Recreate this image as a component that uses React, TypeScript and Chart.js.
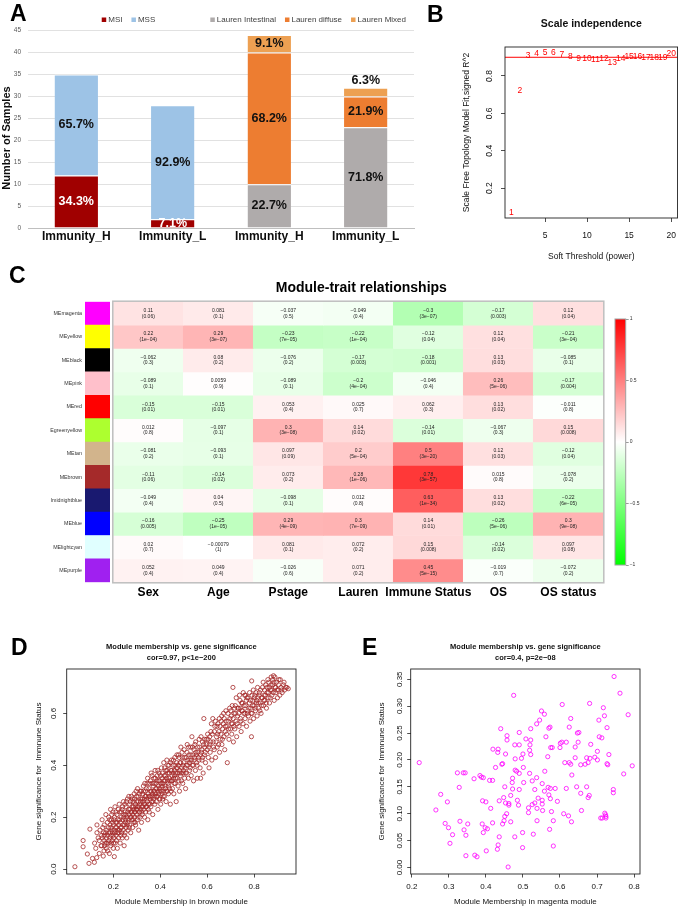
import React, { useEffect, useRef } from "react";
import { Chart, registerables } from "chart.js";
Chart.register(...registerables);

const FONT = "'Liberation Sans', Arial, Helvetica, sans-serif";
Chart.defaults.font.family = FONT;
Chart.defaults.color = "#000";

// ---------------- Panel A data ----------------
const groupLabels = ["Immunity_H", "Immunity_L", "Immunity_H", "Immunity_L"];
const msiCounts = [12, 2, null, null];
const mssCounts = [23, 26, null, null];
const intestinalCounts = [null, null, 10, 23];
const diffuseCounts = [null, null, 30, 7];
const mixedCounts = [null, null, 4, 2];
const msiPct = ["34.3%", "7.1%", null, null];
const mssPct = ["65.7%", "92.9%", null, null];
const intestinalPct = [null, null, "22.7%", "71.8%"];
const diffusePct = [null, null, "68.2%", "21.9%"];
const mixedPct = [null, null, "9.1%", "6.3%"];

// ---------------- Panel B data ----------------
const softPowers = [1, 2, 3, 4, 5, 6, 7, 8, 9, 10, 11, 12, 13, 14, 15, 16, 17, 18, 19, 20];
const signedR2 = [0.07, 0.72, 0.909, 0.92, 0.925, 0.927, 0.916, 0.903, 0.895, 0.89, 0.886, 0.891, 0.871, 0.89, 0.903, 0.903, 0.9, 0.9, 0.9, 0.92];
const r2Cutoff = 0.9;
const powerTicks = [5, 10, 15, 20];
const r2Ticks = [0.2, 0.4, 0.6, 0.8];

// ---------------- Panel C data ----------------
const traitNames = ["Sex", "Age", "Pstage", "Lauren", "Immune Status", "OS", "OS status"];
const moduleNames = ["MEmagenta", "MEyellow", "MEblack", "MEpink", "MEred", "Egreenyellow", "MEtan", "MEbrown", "lmidnightblue", "MEblue", "MElightcyan", "MEpurple"];
const moduleColors = ["#FF00FF", "#FFFF00", "#000000", "#FFC0CB", "#FF0000", "#ADFF2F", "#D2B48C", "#A52A2A", "#191970", "#0000FF", "#E0FFFF", "#A020F0"];
const moduleTraitCor = [
  [0.11, 0.081, -0.037, -0.049, -0.3, -0.17, 0.12],
  [0.22, 0.29, -0.23, -0.22, -0.12, 0.12, -0.21],
  [-0.062, 0.08, -0.076, -0.17, -0.18, 0.13, -0.085],
  [-0.089, 0.0059, -0.089, -0.2, -0.046, 0.26, -0.17],
  [-0.15, -0.15, 0.053, 0.025, 0.062, 0.13, -0.011],
  [0.012, -0.097, 0.3, 0.14, -0.14, -0.067, 0.15],
  [-0.081, -0.093, 0.097, 0.2, 0.5, 0.12, -0.12],
  [-0.11, -0.14, 0.073, 0.28, 0.78, 0.015, -0.078],
  [-0.049, 0.04, -0.098, 0.012, 0.63, 0.13, -0.22],
  [-0.16, -0.25, 0.29, 0.3, 0.14, -0.26, 0.3],
  [0.02, -0.00079, 0.081, 0.072, 0.15, -0.14, 0.097],
  [0.052, 0.049, -0.026, 0.071, 0.45, -0.019, -0.072],
];
const moduleTraitP = [
  ["0.06", "0.1", "0.5", "0.4", "3e\u221207", "0.003", "0.04"],
  ["1e\u221204", "3e\u221207", "7e\u221205", "1e\u221204", "0.04", "0.04", "3e\u221204"],
  ["0.3", "0.2", "0.2", "0.003", "0.001", "0.03", "0.1"],
  ["0.1", "0.9", "0.1", "4e\u221204", "0.4", "5e\u221206", "0.004"],
  ["0.01", "0.01", "0.4", "0.7", "0.3", "0.02", "0.8"],
  ["0.8", "0.1", "3e\u221208", "0.02", "0.01", "0.3", "0.008"],
  ["0.2", "0.1", "0.09", "5e\u221204", "3e\u221220", "0.03", "0.04"],
  ["0.06", "0.02", "0.2", "1e\u221206", "3e\u221257", "0.8", "0.2"],
  ["0.4", "0.5", "0.1", "0.8", "1e\u221234", "0.02", "6e\u221205"],
  ["0.005", "1e\u221205", "4e\u221209", "7e\u221209", "0.01", "5e\u221206", "9e\u221208"],
  ["0.7", "1", "0.1", "0.2", "0.008", "0.02", "0.08"],
  ["0.4", "0.4", "0.6", "0.2", "5e\u221215", "0.7", "0.2"],
];
const colorbarRange = [-1, 1];

// ---------------- Panel D data (brown module) ----------------
const brownMMvsGS = [
  [0.036, 0.009], [0.071, 0.086], [0.071, 0.11], [0.089, 0.058], [0.096, 0.022], [0.1, 0.154], [0.111, 0.041], [0.119, 0.026], [0.129, 0.044], [0.204, 0.048],
  [0.12, 0.1], [0.13, 0.14], [0.125, 0.08], [0.135, 0.12], [0.14, 0.06], [0.13, 0.17], [0.14, 0.11],
  [0.15, 0.09], [0.15, 0.13], [0.155, 0.16], [0.16, 0.07], [0.16, 0.11], [0.152, 0.19], [0.158, 0.14], [0.165, 0.1], [0.162, 0.13], [0.168, 0.21],
  [0.17, 0.08], [0.17, 0.12], [0.172, 0.15], [0.175, 0.18], [0.178, 0.1], [0.18, 0.14], [0.18, 0.2], [0.183, 0.06], [0.185, 0.12], [0.186, 0.17], [0.188, 0.23], [0.189, 0.09],
  [0.19, 0.13], [0.19, 0.16], [0.192, 0.19], [0.195, 0.11], [0.196, 0.14], [0.198, 0.22], [0.2, 0.08], [0.2, 0.17], [0.202, 0.12], [0.204, 0.15], [0.205, 0.2], [0.207, 0.24], [0.208, 0.1], [0.21, 0.18],
  [0.212, 0.13], [0.214, 0.16], [0.215, 0.21], [0.217, 0.08], [0.218, 0.14], [0.22, 0.19], [0.222, 0.12], [0.223, 0.17], [0.225, 0.25], [0.226, 0.15], [0.228, 0.22], [0.229, 0.1],
  [0.23, 0.18], [0.232, 0.13], [0.233, 0.2], [0.235, 0.16], [0.237, 0.23], [0.238, 0.12], [0.24, 0.19], [0.242, 0.15], [0.243, 0.26], [0.245, 0.21], [0.246, 0.09], [0.248, 0.17],
  [0.25, 0.14], [0.25, 0.22], [0.252, 0.19], [0.254, 0.24], [0.255, 0.16], [0.257, 0.12], [0.258, 0.2], [0.26, 0.27], [0.262, 0.18], [0.263, 0.15], [0.265, 0.23], [0.267, 0.21],
  [0.27, 0.17], [0.27, 0.25], [0.272, 0.2], [0.274, 0.14], [0.275, 0.22], [0.277, 0.28], [0.278, 0.19], [0.28, 0.24], [0.282, 0.16], [0.283, 0.21], [0.285, 0.26], [0.287, 0.23], [0.288, 0.18],
  [0.29, 0.2], [0.29, 0.27], [0.292, 0.22], [0.294, 0.25], [0.295, 0.17], [0.297, 0.3], [0.298, 0.23], [0.3, 0.21], [0.3, 0.26], [0.302, 0.19], [0.304, 0.24], [0.306, 0.28], [0.308, 0.15], [0.31, 0.22],
  [0.312, 0.25], [0.314, 0.2], [0.315, 0.3], [0.317, 0.23], [0.318, 0.27], [0.32, 0.18], [0.322, 0.24], [0.323, 0.21], [0.325, 0.29], [0.327, 0.26], [0.328, 0.32], [0.33, 0.23],
  [0.332, 0.27], [0.333, 0.2], [0.335, 0.25], [0.337, 0.3], [0.338, 0.22], [0.34, 0.28], [0.342, 0.24], [0.344, 0.33], [0.345, 0.26], [0.347, 0.19], [0.348, 0.29], [0.35, 0.25],
  [0.352, 0.31], [0.353, 0.22], [0.355, 0.28], [0.357, 0.27], [0.358, 0.34], [0.36, 0.24], [0.362, 0.3], [0.363, 0.26], [0.365, 0.36], [0.367, 0.29], [0.368, 0.21], [0.37, 0.32],
  [0.372, 0.27], [0.373, 0.35], [0.375, 0.3], [0.377, 0.25], [0.378, 0.38], [0.38, 0.29], [0.382, 0.33], [0.383, 0.26], [0.385, 0.31], [0.387, 0.36], [0.388, 0.28], [0.39, 0.23],
  [0.392, 0.32], [0.393, 0.29], [0.395, 0.37], [0.397, 0.27], [0.398, 0.34], [0.4, 0.3], [0.402, 0.25], [0.404, 0.32], [0.405, 0.39], [0.407, 0.29], [0.408, 0.35], [0.41, 0.27],
  [0.412, 0.33], [0.414, 0.3], [0.415, 0.41], [0.417, 0.36], [0.418, 0.28], [0.42, 0.34], [0.422, 0.31], [0.424, 0.38], [0.425, 0.26], [0.427, 0.35], [0.428, 0.42], [0.43, 0.3],
  [0.432, 0.37], [0.434, 0.33], [0.435, 0.29], [0.437, 0.4], [0.438, 0.35], [0.44, 0.31], [0.443, 0.25], [0.445, 0.38], [0.447, 0.34], [0.448, 0.42], [0.45, 0.36],
  [0.452, 0.31], [0.455, 0.4], [0.457, 0.35], [0.458, 0.29], [0.46, 0.38], [0.462, 0.43], [0.464, 0.33], [0.466, 0.37], [0.468, 0.26], [0.47, 0.41],
  [0.472, 0.35], [0.474, 0.39], [0.476, 0.32], [0.478, 0.44], [0.48, 0.37], [0.482, 0.3], [0.484, 0.41], [0.486, 0.36], [0.488, 0.47], [0.49, 0.34],
  [0.492, 0.39], [0.494, 0.43], [0.496, 0.33], [0.498, 0.37], [0.5, 0.41], [0.502, 0.46], [0.504, 0.35], [0.506, 0.39], [0.508, 0.31], [0.51, 0.43],
  [0.512, 0.37], [0.515, 0.48], [0.517, 0.4], [0.52, 0.35], [0.522, 0.44], [0.525, 0.38], [0.527, 0.42], [0.53, 0.47], [0.532, 0.36],
  [0.535, 0.51], [0.537, 0.4], [0.54, 0.44], [0.542, 0.34], [0.545, 0.42], [0.548, 0.48], [0.55, 0.38], [0.552, 0.45], [0.555, 0.41], [0.558, 0.35],
  [0.56, 0.47], [0.563, 0.43], [0.566, 0.5], [0.57, 0.39], [0.572, 0.35], [0.575, 0.45], [0.578, 0.42], [0.58, 0.49], [0.583, 0.37], [0.586, 0.58],
  [0.588, 0.44], [0.59, 0.47], [0.593, 0.41], [0.596, 0.5], [0.6, 0.46], [0.602, 0.52], [0.605, 0.43], [0.608, 0.39], [0.61, 0.48],
  [0.613, 0.45], [0.616, 0.53], [0.62, 0.42], [0.624, 0.58], [0.626, 0.49], [0.63, 0.46], [0.633, 0.55], [0.636, 0.43], [0.64, 0.51],
  [0.643, 0.47], [0.646, 0.56], [0.65, 0.53], [0.653, 0.45], [0.656, 0.5], [0.66, 0.57], [0.663, 0.48], [0.666, 0.54], [0.67, 0.6], [0.672, 0.51],
  [0.675, 0.46], [0.678, 0.55], [0.68, 0.61], [0.683, 0.52], [0.686, 0.41], [0.69, 0.57], [0.693, 0.5], [0.696, 0.62], [0.7, 0.54], [0.703, 0.59],
  [0.705, 0.52], [0.708, 0.56], [0.71, 0.7], [0.712, 0.49], [0.715, 0.6], [0.718, 0.54], [0.72, 0.63], [0.723, 0.57], [0.726, 0.51], [0.73, 0.59],
  [0.733, 0.62], [0.736, 0.55], [0.74, 0.65], [0.742, 0.58], [0.745, 0.53], [0.748, 0.61], [0.75, 0.64], [0.753, 0.56], [0.756, 0.6], [0.76, 0.67],
  [0.762, 0.58], [0.765, 0.63], [0.768, 0.55], [0.77, 0.66], [0.773, 0.61], [0.776, 0.59], [0.78, 0.64], [0.783, 0.57], [0.786, 0.62], [0.789, 0.51], [0.79, 0.725],
  [0.792, 0.6], [0.795, 0.65], [0.798, 0.58], [0.8, 0.63], [0.803, 0.67], [0.806, 0.61], [0.81, 0.64], [0.813, 0.59], [0.816, 0.66], [0.82, 0.62],
  [0.823, 0.68], [0.826, 0.64], [0.83, 0.6], [0.833, 0.66], [0.836, 0.7], [0.84, 0.63], [0.843, 0.67], [0.846, 0.65], [0.85, 0.71], [0.853, 0.62],
  [0.856, 0.68], [0.86, 0.66], [0.863, 0.72], [0.866, 0.64], [0.87, 0.69], [0.873, 0.74], [0.876, 0.67], [0.88, 0.71], [0.883, 0.745], [0.886, 0.65],
  [0.89, 0.7], [0.893, 0.68], [0.896, 0.72], [0.9, 0.66], [0.903, 0.69], [0.906, 0.73], [0.91, 0.67], [0.915, 0.7], [0.92, 0.68], [0.925, 0.71], [0.93, 0.69], [0.94, 0.7], [0.946, 0.695],
  [0.143, 0.15], [0.147, 0.09], [0.153, 0.12], [0.157, 0.05], [0.161, 0.17], [0.163, 0.09], [0.167, 0.14], [0.171, 0.1], [0.174, 0.13], [0.176, 0.07], [0.179, 0.16], [0.181, 0.11], [0.184, 0.19], [0.187, 0.14], [0.191, 0.1], [0.193, 0.21], [0.194, 0.15], [0.197, 0.18], [0.199, 0.13], [0.201, 0.1],
  [0.203, 0.19], [0.206, 0.14], [0.209, 0.16], [0.211, 0.22], [0.213, 0.11], [0.216, 0.18], [0.219, 0.15], [0.221, 0.23], [0.224, 0.14], [0.227, 0.19], [0.231, 0.16], [0.234, 0.22], [0.236, 0.14], [0.239, 0.24], [0.241, 0.17], [0.244, 0.2], [0.247, 0.13], [0.249, 0.25], [0.251, 0.18], [0.253, 0.21], [0.256, 0.26], [0.259, 0.17],
  [0.261, 0.22], [0.264, 0.19], [0.266, 0.28], [0.268, 0.16], [0.271, 0.23], [0.273, 0.26], [0.276, 0.2], [0.279, 0.22], [0.281, 0.27], [0.284, 0.19], [0.286, 0.24], [0.289, 0.29], [0.291, 0.22], [0.293, 0.18], [0.296, 0.24], [0.299, 0.28], [0.301, 0.23], [0.303, 0.31], [0.305, 0.2], [0.307, 0.26], [0.309, 0.24], [0.311, 0.29], [0.313, 0.22], [0.316, 0.26], [0.319, 0.3],
  [0.321, 0.22], [0.324, 0.27], [0.326, 0.24], [0.329, 0.3], [0.331, 0.25], [0.334, 0.33], [0.336, 0.28], [0.339, 0.24], [0.341, 0.31], [0.343, 0.27], [0.346, 0.35], [0.349, 0.23], [0.351, 0.28], [0.354, 0.33], [0.356, 0.25], [0.359, 0.3], [0.361, 0.37], [0.364, 0.28], [0.366, 0.33], [0.369, 0.26], [0.371, 0.3], [0.374, 0.33], [0.376, 0.28], [0.379, 0.35], [0.381, 0.31], [0.384, 0.28], [0.386, 0.34], [0.389, 0.38], [0.391, 0.3], [0.394, 0.34], [0.396, 0.31], [0.399, 0.27],
  [0.401, 0.36], [0.403, 0.33], [0.406, 0.3], [0.409, 0.37], [0.411, 0.32], [0.413, 0.28], [0.416, 0.34], [0.419, 0.39], [0.421, 0.32], [0.423, 0.36], [0.426, 0.3], [0.429, 0.38], [0.431, 0.34], [0.433, 0.4], [0.436, 0.32], [0.439, 0.37], [0.441, 0.34], [0.444, 0.41], [0.446, 0.3], [0.449, 0.38], [0.451, 0.34], [0.454, 0.37], [0.456, 0.42], [0.459, 0.33], [0.461, 0.36], [0.463, 0.4], [0.465, 0.35], [0.469, 0.39], [0.471, 0.44], [0.473, 0.37], [0.477, 0.4], [0.479, 0.34], [0.481, 0.43], [0.483, 0.38], [0.487, 0.41], [0.489, 0.37], [0.493, 0.45], [0.497, 0.4], [0.499, 0.38],
  [0.503, 0.43], [0.507, 0.37], [0.511, 0.4], [0.514, 0.45], [0.518, 0.42], [0.521, 0.47], [0.524, 0.41], [0.528, 0.39], [0.531, 0.44], [0.534, 0.42], [0.538, 0.47], [0.541, 0.4], [0.544, 0.46], [0.547, 0.43], [0.551, 0.49], [0.554, 0.44], [0.557, 0.4], [0.561, 0.45], [0.565, 0.42], [0.568, 0.47], [0.571, 0.44], [0.574, 0.51], [0.577, 0.46], [0.581, 0.43], [0.585, 0.48], [0.589, 0.5], [0.592, 0.45], [0.597, 0.48],
  [0.603, 0.5], [0.607, 0.47], [0.611, 0.51], [0.615, 0.49], [0.618, 0.56], [0.622, 0.52], [0.627, 0.47], [0.631, 0.53], [0.635, 0.57], [0.638, 0.49], [0.642, 0.55], [0.645, 0.52], [0.649, 0.48], [0.652, 0.58], [0.655, 0.55], [0.659, 0.52], [0.662, 0.59], [0.665, 0.5], [0.669, 0.56], [0.673, 0.58], [0.677, 0.53], [0.681, 0.57], [0.685, 0.55], [0.689, 0.6], [0.692, 0.54], [0.697, 0.58],
  [0.701, 0.61], [0.704, 0.56], [0.707, 0.63], [0.711, 0.58], [0.714, 0.55], [0.717, 0.62], [0.721, 0.6], [0.724, 0.66], [0.728, 0.56], [0.731, 0.62], [0.735, 0.6], [0.738, 0.67], [0.741, 0.62], [0.744, 0.57], [0.747, 0.64], [0.751, 0.61], [0.754, 0.68], [0.758, 0.63], [0.761, 0.6], [0.764, 0.67], [0.767, 0.65], [0.771, 0.6], [0.774, 0.66], [0.778, 0.62], [0.781, 0.68], [0.785, 0.65], [0.788, 0.6], [0.791, 0.67], [0.794, 0.63], [0.797, 0.69],
  [0.801, 0.66], [0.805, 0.62], [0.808, 0.68], [0.812, 0.65], [0.815, 0.7], [0.818, 0.64], [0.822, 0.67], [0.825, 0.61], [0.828, 0.69], [0.832, 0.63], [0.835, 0.66], [0.839, 0.72], [0.842, 0.65], [0.845, 0.69], [0.849, 0.67], [0.852, 0.64], [0.855, 0.7], [0.859, 0.73], [0.862, 0.68], [0.865, 0.7], [0.869, 0.66], [0.872, 0.71], [0.875, 0.69], [0.879, 0.73], [0.882, 0.68], [0.885, 0.72], [0.889, 0.74], [0.892, 0.7], [0.898, 0.69], [0.905, 0.71], [0.912, 0.73], [0.918, 0.69], [0.928, 0.72], [0.935, 0.7],
];

// ---------------- Panel E data (magenta module) ----------------
const magentaMMvsGS = [
  [0.22, 0.195], [0.265, 0.107], [0.278, 0.136], [0.296, 0.122], [0.29, 0.082], [0.299, 0.074], [0.303, 0.045], [0.31, 0.061], [0.323, 0.176], [0.328, 0.149],
  [0.33, 0.086], [0.339, 0.176], [0.344, 0.176], [0.341, 0.07], [0.346, 0.06], [0.351, 0.081], [0.346, 0.022], [0.368, 0.165], [0.37, 0.023], [0.376, 0.02],
  [0.384, 0.171], [0.388, 0.168], [0.393, 0.167], [0.391, 0.124], [0.39, 0.081], [0.393, 0.065], [0.4, 0.122], [0.398, 0.074], [0.404, 0.072], [0.401, 0.031],
  [0.41, 0.162], [0.413, 0.11], [0.418, 0.162], [0.418, 0.083], [0.419, 0.22], [0.426, 0.186], [0.433, 0.22], [0.432, 0.214], [0.436, 0.124], [0.436, 0.057],
  [0.433, 0.042], [0.431, 0.034], [0.44, 0.258], [0.443, 0.192], [0.445, 0.193], [0.445, 0.081], [0.448, 0.13], [0.451, 0.15], [0.453, 0.211], [0.449, 0.087],
  [0.451, 0.095], [0.456, 0.1], [0.453, 0.12], [0.457, 0.245], [0.457, 0.237], [0.462, 0.119], [0.462, 0.116], [0.46, 0.001], [0.467, 0.134], [0.467, 0.085],
  [0.471, 0.158], [0.472, 0.166], [0.472, 0.146], [0.475, 0.32], [0.478, 0.228], [0.479, 0.202], [0.479, 0.181], [0.483, 0.179], [0.485, 0.125], [0.488, 0.116],
  [0.49, 0.251], [0.49, 0.228], [0.49, 0.175], [0.49, 0.145], [0.478, 0.057], [0.496, 0.203], [0.499, 0.037], [0.5, 0.211], [0.501, 0.186], [0.502, 0.158],
  [0.499, 0.065], [0.508, 0.239], [0.515, 0.102], [0.515, 0.111], [0.518, 0.218], [0.519, 0.228], [0.518, 0.175], [0.521, 0.237], [0.521, 0.258], [0.521, 0.21],
  [0.525, 0.161], [0.525, 0.117], [0.528, 0.062], [0.532, 0.145], [0.532, 0.12], [0.537, 0.167], [0.538, 0.087], [0.537, 0.267], [0.538, 0.11], [0.541, 0.129],
  [0.545, 0.274], [0.55, 0.291], [0.552, 0.156], [0.552, 0.125], [0.552, 0.118], [0.553, 0.106], [0.558, 0.285], [0.559, 0.179], [0.558, 0.142], [0.562, 0.243],
  [0.567, 0.206], [0.568, 0.149], [0.57, 0.259], [0.573, 0.261], [0.57, 0.135], [0.572, 0.071], [0.574, 0.128], [0.575, 0.223], [0.579, 0.223], [0.574, 0.147],
  [0.577, 0.104], [0.582, 0.087], [0.582, 0.04], [0.587, 0.147], [0.593, 0.123], [0.6, 0.223], [0.601, 0.231], [0.605, 0.233], [0.606, 0.303], [0.61, 0.1],
  [0.613, 0.195], [0.617, 0.233], [0.617, 0.147], [0.623, 0.096], [0.625, 0.261], [0.625, 0.195], [0.629, 0.277], [0.629, 0.192], [0.632, 0.172], [0.631, 0.085],
  [0.641, 0.224], [0.641, 0.204], [0.645, 0.15], [0.647, 0.25], [0.649, 0.233], [0.651, 0.251], [0.656, 0.191], [0.656, 0.138], [0.658, 0.106], [0.668, 0.192],
  [0.672, 0.204], [0.672, 0.15], [0.676, 0.13], [0.679, 0.134], [0.676, 0.195], [0.68, 0.305], [0.681, 0.203], [0.683, 0.229], [0.694, 0.205], [0.701, 0.216],
  [0.701, 0.2], [0.706, 0.243], [0.705, 0.274], [0.71, 0.092], [0.713, 0.241], [0.714, 0.092], [0.717, 0.297], [0.72, 0.282], [0.721, 0.101], [0.723, 0.098],
  [0.724, 0.095], [0.724, 0.092], [0.727, 0.26], [0.727, 0.193], [0.729, 0.191], [0.732, 0.21], [0.744, 0.145], [0.744, 0.139], [0.746, 0.355], [0.762, 0.324],
  [0.772, 0.174], [0.784, 0.284], [0.795, 0.189],
];
const mmTicksD = [0.2, 0.4, 0.6, 0.8];
const gsTicksD = [0.0, 0.2, 0.4, 0.6];
const mmTicksE = [0.2, 0.3, 0.4, 0.5, 0.6, 0.7, 0.8];
const gsTicksE = [0.0, 0.05, 0.1, 0.15, 0.2, 0.25, 0.3, 0.35];

// ---------------- helpers ----------------
const corColor = (v: number) => {
  const c = Math.round(255 * (1 - Math.abs(v)));
  return v >= 0 ? `rgb(255,${c},${c})` : `rgb(${c},255,${c})`;
};
const fmtCor = (v: number) => String(v).replace("-", "\u2212");

const baseOptions = () => ({
  responsive: false,
  animation: false,
  devicePixelRatio: 1,
  events: [],
  plugins: { legend: { display: false }, tooltip: { enabled: false }, title: { display: false } },
});

const fixWidth = (w: number) => (s: any) => { s.width = w; };
const fixHeight = (h: number) => (s: any) => { s.height = h; };
const setTicks = (vals: number[]) => (s: any) => { s.ticks = vals.map((v) => ({ value: v })); };

// R-style decoration: box, rotated y tick labels, axis titles, main title
function rDecor(o: any) {
  return {
    id: "rDecor",
    afterDraw(chart: any) {
      const { ctx, chartArea: a, scales } = chart;
      ctx.save();
      ctx.strokeStyle = "#222";
      ctx.lineWidth = 0.9;
      ctx.strokeRect(a.left, a.top, a.right - a.left, a.bottom - a.top);
      ctx.fillStyle = "#111";
      ctx.textAlign = "center";
      ctx.textBaseline = "middle";
      ctx.font = `${o.tickSize}px ${FONT}`;
      scales.y.ticks.forEach((t: any) => {
        const py = scales.y.getPixelForValue(t.value);
        ctx.save();
        ctx.translate(o.yLabelX, py);
        ctx.rotate(-Math.PI / 2);
        ctx.fillText(t.value.toFixed(o.yDigits), 0, 0);
        ctx.restore();
      });
      const cx = (a.left + a.right) / 2;
      const cy = (a.top + a.bottom) / 2;
      ctx.font = `${o.axisSize}px ${FONT}`;
      ctx.save();
      ctx.translate(o.yTitleX, cy);
      ctx.rotate(-Math.PI / 2);
      ctx.fillText(o.yTitle, 0, 0);
      ctx.restore();
      ctx.fillText(o.xTitle, cx, o.xTitleY);
      ctx.font = `bold ${o.mainSize}px ${FONT}`;
      o.main.forEach((m: string, i: number) => ctx.fillText(m, cx, o.mainY[i]));
      ctx.restore();
    },
  };
}

// ---------------- Panel A ----------------
function makeA() {
  const bar = (label: string, data: any[], pct: any[], color: string, labelColor: string, group: number, extra: any = {}) => ({
    label, data, pctLabels: pct, labelColor, legendGroup: group,
    backgroundColor: color, borderColor: "#ffffff",
    borderWidth: { top: 1, left: 0, right: 0, bottom: 0 }, borderSkipped: false,
    categoryPercentage: 0.9, barPercentage: 0.5, ...extra,
  });
  const plugin = {
    id: "panelA",
    afterDatasetsDraw(chart: any) {
      const ctx = chart.ctx;
      ctx.save();
      ctx.font = `bold 12.5px ${FONT}`;
      ctx.textAlign = "center";
      ctx.textBaseline = "middle";
      chart.data.datasets.forEach((ds: any, di: number) => {
        const meta = chart.getDatasetMeta(di);
        meta.data.forEach((el: any, i: number) => {
          const txt = ds.pctLabels[i];
          if (!txt) return;
          const h = Math.abs(el.base - el.y);
          let ty = (el.y + el.base) / 2;
          if (ds.labelAbove && h < 12) ty = el.y - 7;
          ctx.fillStyle = ds.labelColor;
          ctx.fillText(txt, el.x, ty);
        });
      });
      ctx.restore();
    },
    afterDraw(chart: any) {
      const ctx = chart.ctx;
      const a = chart.chartArea;
      ctx.save();
      ctx.font = `bold 11px ${FONT}`;
      ctx.fillStyle = "#0d0d0d";
      ctx.textAlign = "center";
      ctx.textBaseline = "middle";
      ctx.translate(7, 138);
      ctx.rotate(-Math.PI / 2);
      ctx.fillText("Number of Samples", 0, 0);
      ctx.restore();
      ctx.save();
      ctx.font = `8px ${FONT}`;
      ctx.textBaseline = "middle";
      ctx.textAlign = "left";
      const xs = chart.scales.x;
      const groups = [0, 1].map((g) => chart.data.datasets.filter((d: any) => d.legendGroup === g));
      const widthOf = (items: any[]) => items.reduce((s, d) => s + 6.5 + ctx.measureText(d.label).width + 9, 0) - 9;
      const draw = (items: any[], startX: number) => {
        let x = startX;
        items.forEach((d: any) => {
          ctx.fillStyle = d.backgroundColor;
          ctx.fillRect(x, 17.5, 4.5, 4.5);
          ctx.fillStyle = "#404040";
          ctx.fillText(d.label, x + 6.5, 20);
          x += 6.5 + ctx.measureText(d.label).width + 9;
        });
      };
      const c1 = (xs.getPixelForValue(0) + xs.getPixelForValue(1)) / 2 + 4;
      draw(groups[0], c1 - widthOf(groups[0]) / 2);
      draw(groups[1], a.right - 8 - widthOf(groups[1]));
      ctx.restore();
    },
  };
  return {
    type: "bar",
    data: {
      labels: groupLabels,
      datasets: [
        bar("MSI", msiCounts, msiPct, "#A00000", "#ffffff", 0),
        bar("MSS", mssCounts, mssPct, "#9DC3E6", "#111111", 0),
        bar("Lauren Intestinal", intestinalCounts, intestinalPct, "#AFABAB", "#111111", 1),
        bar("Lauren diffuse", diffuseCounts, diffusePct, "#ED7D31", "#111111", 1),
        bar("Lauren Mixed", mixedCounts, mixedPct, "#EDA052", "#111111", 1, { labelAbove: true }),
      ],
    },
    options: {
      ...baseOptions(),
      layout: { padding: { top: 30.7, right: 6, left: 0, bottom: 0 } },
      scales: {
        x: {
          stacked: true,
          grid: { display: false, drawTicks: false },
          border: { display: true, color: "#BFBFBF", width: 1 },
          ticks: { font: { size: 12, weight: "bold" }, color: "#0d0d0d", padding: 1, autoSkip: false, maxRotation: 0 },
          afterFit: fixHeight(17),
        },
        y: {
          stacked: true, min: 0, max: 45,
          ticks: { stepSize: 5, font: { size: 6.5 }, color: "#595959", padding: 7 },
          grid: { color: "#D9D9D9", lineWidth: 0.8, drawTicks: false },
          border: { display: false },
          afterFit: fixWidth(28),
        },
      },
    },
    plugins: [plugin],
  };
}

// ---------------- Panel B ----------------
function makeB() {
  const xMin = 0.24, xMax = 20.76;
  const labelsPlugin = {
    id: "powerLabels",
    afterDatasetsDraw(chart: any) {
      const ctx = chart.ctx;
      ctx.save();
      ctx.font = `8.5px ${FONT}`;
      ctx.fillStyle = "#FF0000";
      ctx.textAlign = "center";
      ctx.textBaseline = "middle";
      chart.getDatasetMeta(0).data.forEach((el: any, i: number) => {
        ctx.fillText(String(softPowers[i]), el.x, el.y);
      });
      ctx.restore();
    },
  };
  return {
    type: "scatter",
    data: {
      datasets: [
        { data: softPowers.map((p, i) => ({ x: p, y: signedR2[i] })), pointRadius: 0, showLine: false },
        { data: [{ x: xMin, y: r2Cutoff }, { x: xMax, y: r2Cutoff }], showLine: true, borderColor: "#FF0000", borderWidth: 1, pointRadius: 0 },
      ],
    },
    options: {
      ...baseOptions(),
      layout: { padding: { top: 47, right: 3, left: 0, bottom: 0 } },
      scales: {
        x: {
          type: "linear", min: xMin, max: xMax,
          afterBuildTicks: setTicks(powerTicks),
          ticks: { font: { size: 8.5 }, color: "#111", padding: 9, callback: (v: any) => String(v) },
          grid: { drawOnChartArea: false, drawTicks: true, tickLength: 4, color: "#222", lineWidth: 0.8 },
          border: { display: false },
          afterFit: fixHeight(52),
        },
        y: {
          type: "linear", min: 0.04, max: 0.955,
          afterBuildTicks: setTicks(r2Ticks),
          ticks: { display: false },
          grid: { drawOnChartArea: false, drawTicks: true, tickLength: 4, color: "#222", lineWidth: 0.8 },
          border: { display: false },
          afterFit: fixWidth(65),
        },
      },
    },
    plugins: [
      labelsPlugin,
      rDecor({
        tickSize: 8.5, yDigits: 1, yLabelX: 50, axisSize: 8.5, yTitleX: 27,
        yTitle: "Scale Free Topology Model Fit,signed R^2", xTitle: "Soft Threshold (power)", xTitleY: 257,
        mainSize: 10.5, main: ["Scale independence"], mainY: [24],
      }),
    ],
  };
}

// ---------------- Panel C ----------------
function makeModuleColumn() {
  return {
    type: "bar",
    data: {
      labels: moduleNames,
      datasets: [{ data: moduleNames.map(() => 1), backgroundColor: moduleColors, borderWidth: 0, barPercentage: 1, categoryPercentage: 1 }],
    },
    options: {
      ...baseOptions(),
      indexAxis: "y",
      layout: { padding: { top: 21.7, bottom: 17.7, right: 2, left: 0 } },
      scales: {
        x: { display: false, min: 0, max: 1 },
        y: {
          ticks: { font: { size: 5.3 }, color: "#333", padding: 3, autoSkip: false },
          grid: { display: false, drawTicks: false },
          border: { display: false },
          afterFit: fixWidth(85),
        },
      },
    },
  };
}

function makeHeatmap() {
  const plugin = {
    id: "heatText",
    afterDatasetsDraw(chart: any) {
      const ctx = chart.ctx;
      ctx.save();
      ctx.font = `5px ${FONT}`;
      ctx.fillStyle = "#222";
      ctx.textAlign = "center";
      ctx.textBaseline = "middle";
      chart.data.datasets.forEach((_ds: any, ri: number) => {
        chart.getDatasetMeta(ri).data.forEach((el: any, ci: number) => {
          const cy = (el.y + el.base) / 2;
          ctx.fillText(fmtCor(moduleTraitCor[ri][ci]), el.x, cy - 2.8);
          ctx.fillText(`(${moduleTraitP[ri][ci]})`, el.x, cy + 2.8);
        });
      });
      ctx.restore();
    },
    afterDraw(chart: any) {
      const ctx = chart.ctx;
      const a = chart.chartArea;
      ctx.save();
      ctx.strokeStyle = "#BEBEBE";
      ctx.lineWidth = 1.5;
      ctx.strokeRect(a.left - 0.5, a.top - 0.5, a.right - a.left + 1, a.bottom - a.top + 1);
      ctx.fillStyle = "#000";
      ctx.font = `bold 14px ${FONT}`;
      ctx.textAlign = "center";
      ctx.textBaseline = "middle";
      ctx.fillText("Module-trait relationships", (a.left + a.right) / 2 + 3, 8);
      ctx.restore();
    },
  };
  return {
    type: "bar",
    data: {
      labels: traitNames,
      datasets: moduleNames.map((m, i) => ({
        label: m,
        data: traitNames.map(() => 1),
        backgroundColor: moduleTraitCor[i].map(corColor),
        borderWidth: 0,
        barPercentage: 1,
        categoryPercentage: 1,
      })),
    },
    options: {
      ...baseOptions(),
      layout: { padding: { top: 21.7, right: 6.7, left: 3.3, bottom: 0 } },
      scales: {
        x: {
          stacked: true,
          grid: { display: false, drawTicks: false },
          border: { display: false },
          ticks: { font: { size: 12, weight: "bold" }, color: "#000", padding: 3.5, autoSkip: false, maxRotation: 0 },
          afterFit: fixHeight(17.7),
        },
        y: { stacked: true, display: false, min: 0, max: 12, reverse: true },
      },
    },
    plugins: [plugin],
  };
}

function makeColorbar() {
  const frame = {
    id: "cbFrame",
    afterDraw(chart: any) {
      const a = chart.chartArea;
      const ctx = chart.ctx;
      ctx.save();
      ctx.strokeStyle = "#A0A0A0";
      ctx.lineWidth = 1;
      ctx.strokeRect(a.left, a.top, a.right - a.left, a.bottom - a.top);
      ctx.restore();
    },
  };
  return {
    type: "bar",
    data: {
      labels: [""],
      datasets: [{
        data: [colorbarRange],
        borderWidth: 0,
        barPercentage: 1,
        categoryPercentage: 1,
        backgroundColor: (c: any) => {
          const chart = c.chart;
          if (!chart.chartArea) return "#fff";
          const ys = chart.scales.y;
          const g = chart.ctx.createLinearGradient(0, ys.getPixelForValue(colorbarRange[0]), 0, ys.getPixelForValue(colorbarRange[1]));
          g.addColorStop(0, corColor(colorbarRange[0]));
          g.addColorStop(0.5, corColor(0));
          g.addColorStop(1, corColor(colorbarRange[1]));
          return g;
        },
      }],
    },
    options: {
      ...baseOptions(),
      layout: { padding: { top: 39, bottom: 35, left: 10, right: 0 } },
      scales: {
        x: { display: false },
        y: {
          position: "right", min: colorbarRange[0], max: colorbarRange[1],
          ticks: { stepSize: 0.5, font: { size: 5 }, color: "#333", padding: 1, callback: (v: any) => fmtCor(v) },
          grid: { drawOnChartArea: false, drawTicks: true, tickLength: 3, color: "#555", lineWidth: 0.6 },
          border: { display: false },
          afterFit: fixWidth(59.3),
        },
      },
    },
    plugins: [frame],
  };
}

// ---------------- Panels D, E ----------------
function makeScatter(points: number[][], color: string, xr: number[], yr: number[], xt: number[], yt: number[], yDigits: number, decor: any, padRight: number, yWidth: number) {
  return {
    type: "scatter",
    data: {
      datasets: [{
        data: points.map((p) => ({ x: p[0], y: p[1] })),
        pointRadius: 2.1,
        pointBorderWidth: 0.8,
        pointBorderColor: color,
        pointBackgroundColor: "rgba(0,0,0,0)",
      }],
    },
    options: {
      ...baseOptions(),
      layout: { padding: { top: 29, right: padRight, left: 0, bottom: 0 } },
      scales: {
        x: {
          type: "linear", min: xr[0], max: xr[1],
          afterBuildTicks: setTicks(xt),
          ticks: { font: { size: 8 }, color: "#111", padding: 4.2, callback: (v: any) => Number(v).toFixed(1) },
          grid: { drawOnChartArea: false, drawTicks: true, tickLength: 3.5, color: "#222", lineWidth: 0.8 },
          border: { display: false },
          afterFit: fixHeight(34),
        },
        y: {
          type: "linear", min: yr[0], max: yr[1],
          afterBuildTicks: setTicks(yt),
          ticks: { display: false },
          grid: { drawOnChartArea: false, drawTicks: true, tickLength: 3.5, color: "#222", lineWidth: 0.8 },
          border: { display: false },
          afterFit: fixWidth(yWidth),
        },
      },
    },
    plugins: [rDecor({ ...decor, yDigits })],
  };
}

const makeD = () => makeScatter(brownMMvsGS, "#A52A2A", [0.001, 0.979], [-0.019, 0.771], mmTicksD, gsTicksD, 1, {
  tickSize: 8, yLabelX: 54, axisSize: 8, yTitleX: 38.3,
  yTitle: "Gene significance for  Immnune Status", xTitle: "Module Membership in brown module", xTitleY: 262,
  mainSize: 7.5, main: ["Module membership vs. gene significance", "cor=0.97, p<1e\u2212200"], mainY: [7, 17.5],
}, 44, 66.7);

const makeE = () => makeScatter(magentaMMvsGS, "#FF00FF", [0.197, 0.816], [-0.012, 0.369], mmTicksE, gsTicksE, 2, {
  tickSize: 8, yLabelX: 60, axisSize: 8, yTitleX: 41.7,
  yTitle: "Gene significance for  Immnune Status", xTitle: "Module Membership in magenta module", xTitleY: 262,
  mainSize: 7.5, main: ["Module membership vs. gene significance", "cor=0.4, p=2e\u221208"], mainY: [7, 17.5],
}, 45, 70.7);

// ---------------- components ----------------
function ChartCanvas({ left, top, width, height, make }: any) {
  const ref = useRef<HTMLCanvasElement>(null);
  useEffect(() => {
    if (!ref.current) return;
    const chart = new Chart(ref.current, make());
    return () => chart.destroy();
  }, []);
  return (
    <canvas
      ref={ref}
      width={width}
      height={height}
      style={{ position: "absolute", left, top, width, height, display: "block" }}
    />
  );
}

function Letter({ text, left, top }: any) {
  return (
    <div style={{ position: "absolute", left, top, fontFamily: FONT, fontWeight: "bold", fontSize: 23, lineHeight: "23px", color: "#000" }}>
      {text}
    </div>
  );
}

export default function App() {
  return (
    <div style={{ position: "absolute", left: 0, top: 0, width: 685, height: 908, background: "#fff", overflow: "hidden" }}>
      <ChartCanvas left={0} top={0} width={420} height={245} make={makeA} />
      <ChartCanvas left={440} top={0} width={245} height={270} make={makeB} />
      <ChartCanvas left={0} top={280} width={112} height={320} make={makeModuleColumn} />
      <ChartCanvas left={110} top={280} width={500} height={320} make={makeHeatmap} />
      <ChartCanvas left={605} top={280} width={80} height={320} make={makeColorbar} />
      <ChartCanvas left={0} top={640} width={340} height={268} make={makeD} />
      <ChartCanvas left={340} top={640} width={345} height={268} make={makeE} />
      <Letter text="A" left={10} top={2} />
      <Letter text="B" left={427} top={3} />
      <Letter text="C" left={9} top={264} />
      <Letter text="D" left={11} top={636} />
      <Letter text="E" left={362} top={636} />
    </div>
  );
}
